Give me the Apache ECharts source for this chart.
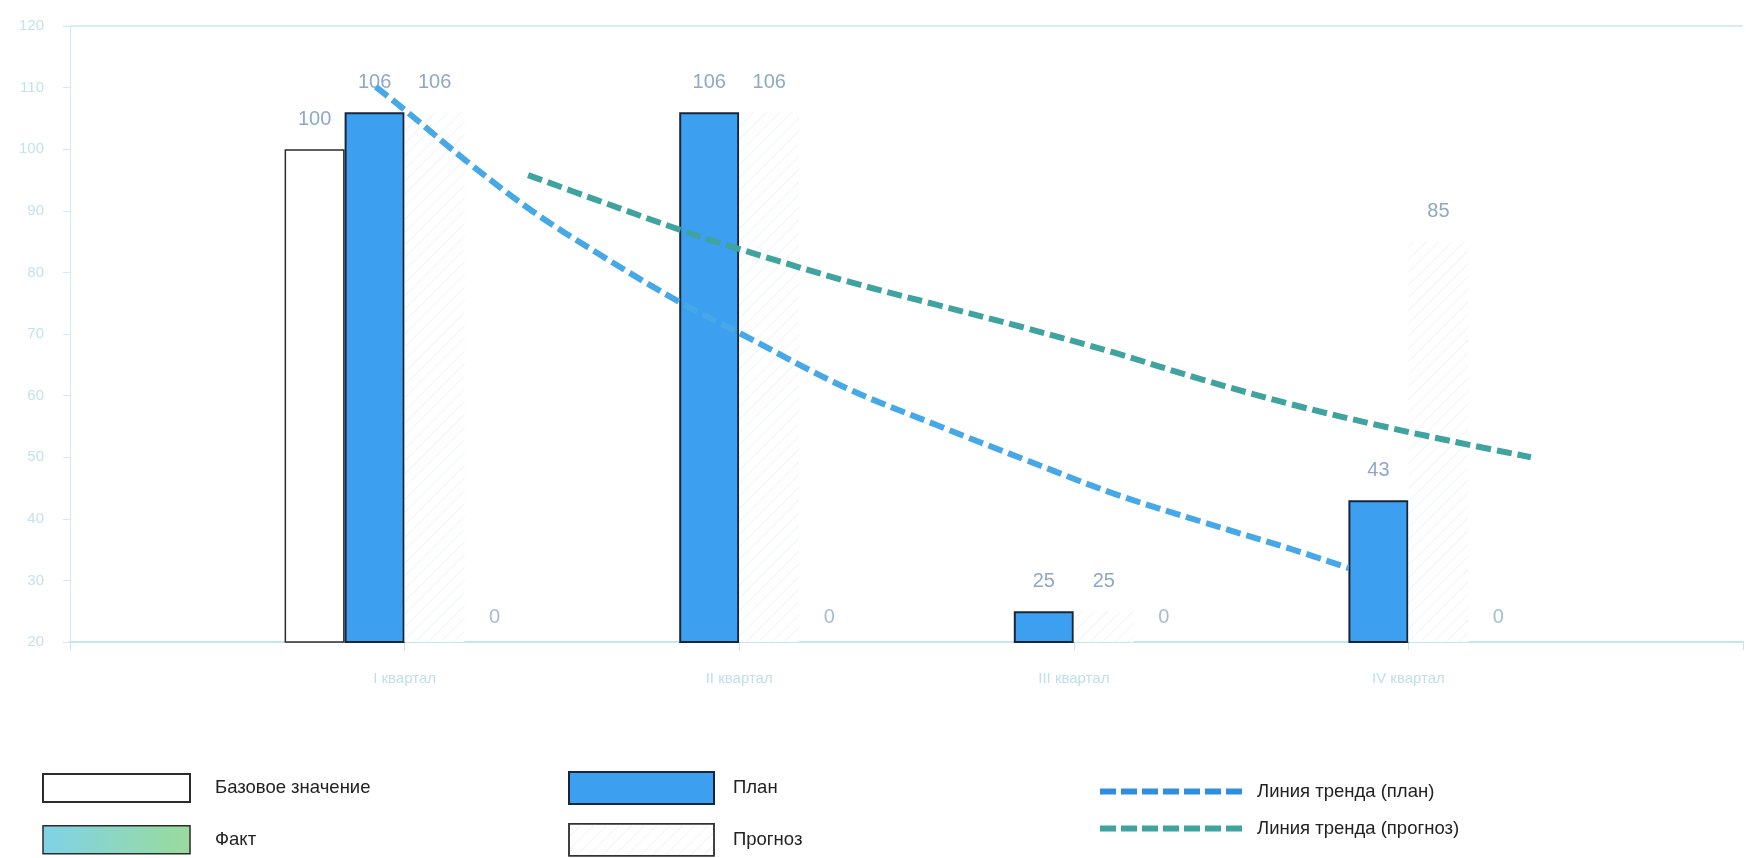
<!DOCTYPE html>
<html>
<head>
<meta charset="utf-8">
<script src="https://cdn.jsdelivr.net/npm/echarts@6/dist/echarts.min.js"></script>
<style>
  html, body { margin: 0; padding: 0; background: #ffffff; }
  #chart { width: 1746px; height: 858px; }
</style>
</head>
<body>
<div id="chart"></div>
<script>
// ---- data ----
const categories = ['I квартал', 'II квартал', 'III квартал', 'IV квартал'];
const baseValues = [100, null, null, null];
const planValues = [106, 106, 25, 43];
const forecastValues = [106, 106, 25, 85];
const factValues = [0, 0, 0, 0];
// trend lines: [position in quarter units (0 = axis start), value]
const trendPlan = [
  [0.914, 110.1], [0.991, 106.8], [1.182, 98.2], [1.378, 90.1], [1.577, 83.1],
  [1.821, 75.2], [2.006, 70.0], [2.313, 61.4], [2.586, 55.3], [2.854, 49.6],
  [3.119, 44.1], [3.384, 39.5], [3.649, 35.1], [3.821, 32.0]
];
const trendForecast = [
  [1.369, 95.8], [1.577, 91.7], [1.824, 86.9], [1.994, 83.9], [2.313, 78.7],
  [2.586, 74.8], [2.854, 71.0], [3.119, 67.0], [3.384, 62.6], [3.649, 58.6],
  [3.917, 55.1], [4.182, 52.0], [4.366, 50.0]
];
const yTicks = { min: 20, max: 120, interval: 10 };

// ---- build ----
const pad = arr => ['-'].concat(arr.map(v => v === null ? '-' : v)).concat(['-']);
const axisCats = [''].concat(categories).concat(['']);
const FONT = 'Liberation Sans, Arial, sans-serif';

const labelColor = '#8ea8c8';
const barLabel = (dist, color) => ({
  show: true, position: 'top', distance: dist,
  color: color || labelColor, fontSize: 20, fontFamily: FONT
});

const splitColors = [];
for (let v = yTicks.min; v <= yTicks.max; v += yTicks.interval) {
  splitColors.push(v === yTicks.max ? '#d6edf5' : 'rgba(0,0,0,0)');
}

// dashed-line legend icon (7 dashes)
let dashPath = 'path://';
for (let i = 0; i < 7; i++) {
  const x0 = i * 21;
  dashPath += 'M' + x0 + ',0L' + (x0 + 16) + ',0L' + (x0 + 16) + ',6L' + x0 + ',6Z';
}

const legendText = (padLeft) => ({ fontSize: 18.5, color: '#222222', padding: [0, 0, 0, padLeft], fontFamily: FONT });

const chart = echarts.init(document.getElementById('chart'), null, { renderer: 'canvas' });
chart.setOption({
  backgroundColor: '#ffffff',
  animation: false,
  grid: { left: 70, right: -4, top: 26, bottom: 216, containLabel: false },
  xAxis: [
    {
      type: 'category', data: axisCats, boundaryGap: false,
      axisLine: { lineStyle: { color: '#c4e6f1', width: 2 } },
      axisTick: { show: true, length: 8, lineStyle: { color: '#c4e6f1' } },
      axisLabel: { color: '#bfe0ec', fontSize: 15, margin: 29, fontFamily: FONT },
      splitLine: { show: false }
    },
    { type: 'value', min: 0, max: 5, show: false }
  ],
  yAxis: [
    {
      type: 'value', min: yTicks.min, max: yTicks.max, interval: yTicks.interval,
      axisLine: { show: true, lineStyle: { color: '#cfeaf3', width: 1 } },
      axisTick: { show: true, length: 7, lineStyle: { color: '#cfeaf3' } },
      axisLabel: { color: '#c3e2ee', fontSize: 15, margin: 26, fontFamily: FONT },
      splitLine: { show: true, lineStyle: { color: splitColors, width: 2 } }
    },
    { type: 'value', min: 0, max: 100, show: false }
  ],
  legend: [
    {
      orient: 'vertical', left: 42, top: 773, padding: 0, icon: 'rect',
      itemWidth: 147, itemHeight: 28, itemGap: 22,
      textStyle: legendText(20),
      data: [
        'Базовое значение',
        { name: 'Факт', itemStyle: { borderColor: '#2b2b2b', borderWidth: 1.5 } }
      ]
    },
    {
      orient: 'vertical', left: 568, top: 771, padding: 0, icon: 'rect',
      itemWidth: 145, itemHeight: 32, itemGap: 18,
      textStyle: legendText(14),
      data: [
        'План',
        { name: 'Прогноз', itemStyle: { borderColor: '#333333', borderWidth: 1.5 } }
      ]
    },
    {
      orient: 'vertical', left: 1100, top: 782, padding: 0,
      itemWidth: 142, itemHeight: 6, itemGap: 18,
      textStyle: legendText(10),
      data: [
        { name: 'Линия тренда (план)', icon: dashPath, itemStyle: { color: '#2f8fdc' } },
        { name: 'Линия тренда (прогноз)', icon: dashPath, itemStyle: { color: '#3fa3a0' } }
      ]
    }
  ],
  series: [
    {
      name: 'Базовое значение', type: 'bar', xAxisIndex: 0, yAxisIndex: 0,
      barWidth: 60, barGap: '0%', data: pad(baseValues),
      itemStyle: { color: '#ffffff', borderColor: '#2b2b2b', borderWidth: 1.5 },
      label: barLabel(20)
    },
    {
      name: 'План', type: 'bar', xAxisIndex: 0, yAxisIndex: 0,
      barWidth: 60, barGap: '0%', data: pad(planValues),
      itemStyle: { color: '#3c9ff0', borderColor: '#18263a', borderWidth: 2 },
      label: barLabel(20)
    },
    {
      name: 'Прогноз', type: 'bar', xAxisIndex: 0, yAxisIndex: 0,
      barWidth: 60, barGap: '0%', data: pad(forecastValues),
      itemStyle: {
        color: '#ffffff', borderWidth: 0,
        decal: { symbol: 'rect', dashArrayX: [1, 0], dashArrayY: [1, 8], rotation: -Math.PI / 4, color: 'rgba(205,218,228,0.3)' }
      },
      label: barLabel(20)
    },
    {
      name: 'Факт', type: 'bar', xAxisIndex: 0, yAxisIndex: 1,
      barWidth: 60, barGap: '0%', data: pad(factValues),
      itemStyle: {
        color: new echarts.graphic.LinearGradient(0, 0, 1, 0, [
          { offset: 0, color: '#7fd2e8' }, { offset: 1, color: '#9adb9c' }
        ]),
        borderWidth: 0
      },
      label: barLabel(15, '#a6bdd4')
    },
    {
      name: 'Линия тренда (план)', type: 'line', xAxisIndex: 1, yAxisIndex: 0,
      data: trendPlan, smooth: 0.35, symbol: 'none', z: 5,
      itemStyle: { color: '#3b9ee3' },
      lineStyle: { color: '#47a8e8', width: 6, type: [15, 6] }
    },
    {
      name: 'Линия тренда (прогноз)', type: 'line', xAxisIndex: 1, yAxisIndex: 0,
      data: trendForecast, smooth: 0.35, symbol: 'none', z: 5,
      itemStyle: { color: '#3fa3a0' },
      lineStyle: { color: '#3fa3a0', width: 6, type: [15, 6] }
    }
  ]
});
</script>
</body>
</html>
